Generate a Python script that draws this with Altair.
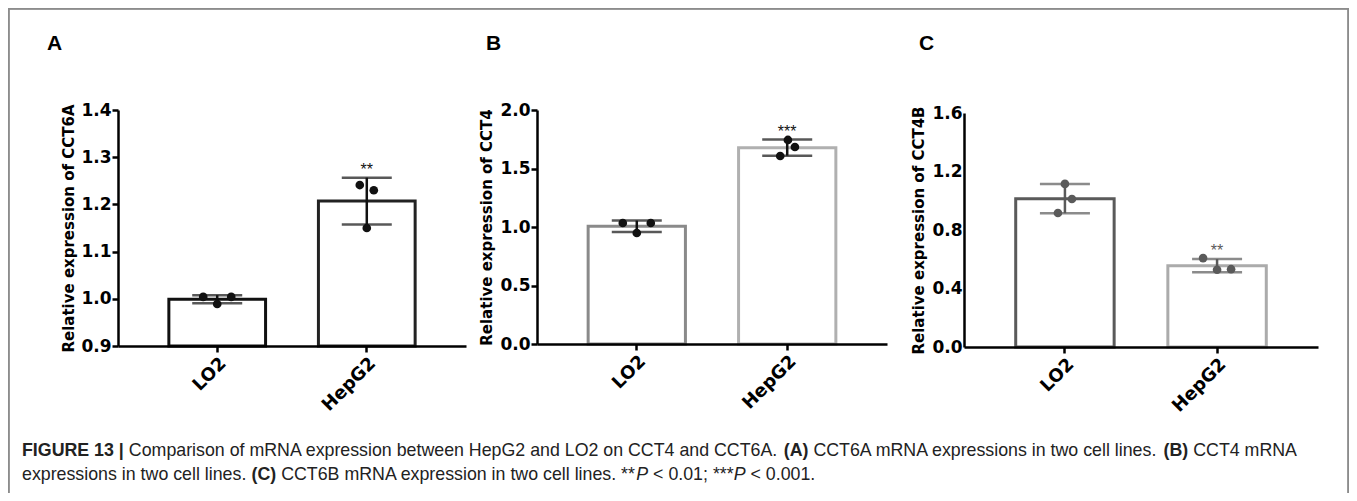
import altair as alt
import pandas as pd

# ---------------- data ----------------
groups = ["LO2", "HepG2"]

a_lo2 = [1.004, 0.989, 1.004]
a_hepg2 = [1.241, 1.230, 1.150]
b_lo2 = [1.034, 0.949, 1.034]
b_hepg2 = [1.744, 1.684, 1.607]
c_lo2 = [1.115, 1.012, 0.916]
c_hepg2 = [0.608, 0.528, 0.532]

# horizontal arrangement of replicate dots inside a bar (-1 left .. 1 right)
a_lo2_slot = [-1, 0, 1]
a_hepg2_slot = [-0.5, 0.5, 0]
b_lo2_slot = [-1, 0, 1]
b_hepg2_slot = [0.05, 0.55, -0.5]
c_lo2_slot = [0.0, 0.5, -0.5]
c_hepg2_slot = [-1, 0, 1]

a_ticks = [0.9, 1.0, 1.1, 1.2, 1.3, 1.4]
b_ticks = [0.0, 0.5, 1.0, 1.5, 2.0]
c_ticks = [0.0, 0.4, 0.8, 1.2, 1.6]

y_titles = ["Relative expression of CCT6A", "Relative expression of CCT4",
            "Relative expression of CCT4B"]
stars_a = ["", "**"]
stars_b = ["", "***"]
stars_c = ["", "**"]
letters = ["A", "B", "C"]

caption_lines = [
    [("FIGURE 13 |", "bold"),
     (" Comparison of mRNA expression between HepG2 and LO2 on CCT4 and CCT6A. ", "normal"),
     ("(A)", "bold"),
     (" CCT6A mRNA expressions in two cell lines. ", "normal"),
     ("(B)", "bold"),
     (" CCT4 mRNA", "normal")],
    [("expressions in two cell lines. ", "normal"),
     ("(C)", "bold"),
     (" CCT6B mRNA expression in two cell lines. **", "normal"),
     ("P", "italic"),
     (" < 0.01; ***", "normal"),
     ("P", "italic"),
     (" < 0.001.", "normal")],
]

# ---------------- layout ----------------
W, H = 1341, 485
AX_FONT = "DejaVu Sans"
TXT_FONT = "Liberation Sans, Arial, sans-serif"
P_INNER = 1 / 3
P_OUTER = 0.33


def make_panel(lo2, hep, slot_lo2, slot_hep, ticks, title, stars, xr, yr,
               bar_cols, dot_col, err_col, title_x, tick_size, label_pad):
    raw = pd.DataFrame({
        "group": ["LO2"] * len(lo2) + ["HepG2"] * len(hep),
        "value": lo2 + hep,
        "slot": slot_lo2 + slot_hep,
    })
    rows = []
    for g, vals, st in zip(groups, [lo2, hep], stars):
        s = pd.Series(vals)
        m, sd = s.mean(), s.std()
        rows.append({"group": g, "mean": m, "hi": m + sd, "lo": m - sd, "star": st})
    summ = pd.DataFrame(rows)

    span = xr[1] - xr[0]
    step = span / (len(groups) - P_INNER + 2 * P_OUTER)
    bw = step * (1 - P_INNER)

    xs = alt.Scale(domain=groups, range=xr, paddingInner=P_INNER, paddingOuter=P_OUTER)
    ys = alt.Scale(domain=[ticks[0], ticks[-1]], range=yr, zero=False, nice=False)
    xax = alt.Axis(orient="bottom", offset=yr[0] - H, title=None, labelAngle=-45,
                   labelAlign="right", labelBaseline="top", labelFont=AX_FONT,
                   labelFontWeight="bold", labelFontSize=18, labelColor="black",
                   labelPadding=2, tickSize=6, tickWidth=2.5, tickColor="black",
                   domainWidth=2.5, domainColor="black", grid=False, zindex=1)
    yax = alt.Axis(orient="left", offset=-xr[0], title=title, values=ticks, format=".1f",
                   labelFont=AX_FONT, labelFontWeight="bold", labelFontSize=17,
                   labelColor="black", labelPadding=label_pad, labelOverlap=False,
                   tickSize=tick_size, tickWidth=2.5, tickColor="black",
                   ticks=tick_size > 0,
                   domainWidth=2.5, domainColor="black", grid=False,
                   titleFont=AX_FONT, titleFontWeight="bold", titleFontSize=15,
                   titleColor="black", titleX=title_x, titleBaseline="bottom",
                   titleAngle=270, zindex=1)
    x = alt.X("group:N", scale=xs, sort=groups, axis=xax)

    def y(field):
        return alt.Y(f"{field}:Q", scale=ys, axis=yax)

    bar = alt.Chart(summ).mark_bar(fill="white", strokeWidth=3, width=bw - 3).encode(
        x=x, y=y("mean"), y2=alt.Y2(datum=ticks[0]),
        stroke=alt.when(alt.datum.group == "LO2").then(alt.value(bar_cols[0]))
        .otherwise(alt.value(bar_cols[1])),
    )
    rule = alt.Chart(summ).mark_rule(strokeWidth=2.5, color=err_col).encode(
        x=x, y=y("lo"), y2="hi:Q")
    cap_hi = alt.Chart(summ).mark_tick(size=50, thickness=2.5, color=err_col).encode(
        x=x, y=y("hi"))
    cap_lo = alt.Chart(summ).mark_tick(size=50, thickness=2.5, color=err_col).encode(
        x=x, y=y("lo"))
    pts = alt.Chart(raw).mark_circle(size=75, opacity=1, color=dot_col).encode(
        x=x,
        xOffset=alt.XOffset("slot:Q", scale=alt.Scale(domain=[-1, 1],
                                                      range=[bw / 2 - 14, bw / 2 + 14])),
        y=y("value"),
    )
    star = alt.Chart(summ).mark_text(font=TXT_FONT, fontSize=16, dy=-3,
                                     baseline="alphabetic", color=err_col).encode(
        x=x, y=y("hi"), text="star:N")
    return alt.layer(bar, rule, cap_hi, cap_lo, pts, star)


pA = make_panel(a_lo2, a_hepg2, a_lo2_slot, a_hepg2_slot, a_ticks, y_titles[0], stars_a,
                [110, 458], [338, 102], ["#111111", "#222222"], "#111111", "#111111",
                -42, 6, 1)
pB = make_panel(b_lo2, b_hepg2, b_lo2_slot, b_hepg2_slot, b_ticks, y_titles[1], stars_b,
                [529, 879], [336, 102], ["#8a8a8a", "#b0b0b0"], "#111111", "#111111",
                -43, 6, 1)
pC = make_panel(c_lo2, c_hepg2, c_lo2_slot, c_hepg2_slot, c_ticks, y_titles[2], stars_c,
                [956, 1310], [339, 105], ["#5a5a5a", "#ababab"], "#5a5a5a", "#5a5a5a",
                -38, 0, 2)

# panel letters
letters_df = pd.DataFrame({"t": letters, "px": [39, 478, 911], "py": [42, 42, 42]})
letter_layer = alt.Chart(letters_df).mark_text(
    font=TXT_FONT, fontSize=21, fontWeight="bold", align="left", baseline="alphabetic",
    color="black").encode(x=alt.X("px:Q", scale=None), y=alt.Y("py:Q", scale=None), text="t:N")

# caption: flow segments using Arial/Liberation Sans advance widths
REG = {' ': 278, '*': 389, '(': 333, ')': 333, '.': 278, ',': 278, ';': 278, '<': 584,
       '|': 260, 'A': 667, 'B': 667, 'C': 722, 'E': 667, 'F': 611, 'G': 778, 'H': 722,
       'I': 278, 'L': 556, 'N': 722, 'O': 778, 'P': 667, 'R': 722, 'T': 611, 'U': 722,
       'a': 556, 'b': 556, 'c': 500, 'd': 556, 'e': 556, 'f': 278, 'g': 556, 'h': 556,
       'i': 222, 'l': 222, 'm': 833, 'n': 556, 'o': 556, 'p': 556, 'r': 333, 's': 500,
       't': 278, 'u': 556, 'v': 500, 'w': 722, 'x': 500, 'y': 500}
BOLD = {' ': 278, '(': 333, ')': 333, '|': 280, 'A': 722, 'B': 722, 'C': 722, 'E': 667,
        'F': 611, 'G': 778, 'I': 278, 'R': 722, 'U': 722}
for d in "0123456789":
    REG[d] = 556
    BOLD[d] = 556

CAP_SIZE = 17.8
CAP_X0 = 14
CAP_Y = [448, 472]


def text_w(s, style):
    table = BOLD if style == "bold" else REG
    return sum(table.get(ch, 556) for ch in s) * CAP_SIZE / 1000.0


cap_rows = []
for line, ypix in zip(caption_lines, CAP_Y):
    cur = CAP_X0
    for seg, style in line:
        lead = len(seg) - len(seg.lstrip(" "))
        core = seg.strip(" ")
        xpos = cur + text_w(" " * lead, style)
        cap_rows.append({"t": core, "px": xpos, "py": ypix, "style": style})
        cur += text_w(seg, style)
cap_df = pd.DataFrame(cap_rows)


def cap_layer(style, weight, fstyle):
    return alt.Chart(cap_df).transform_filter(alt.datum.style == style).mark_text(
        font=TXT_FONT, fontSize=CAP_SIZE, fontWeight=weight, fontStyle=fstyle,
        align="left", baseline="alphabetic", color="#222222").encode(
        x=alt.X("px:Q", scale=None), y=alt.Y("py:Q", scale=None), text="t:N")


cap_norm = cap_layer("normal", "normal", "normal")
cap_bold = cap_layer("bold", "bold", "normal")
cap_ital = cap_layer("italic", "normal", "italic")

# figure frame
frame_left = alt.Chart(letters_df).mark_rule(color="#8c8c8c", strokeWidth=1.5).encode(
    x=alt.value(0.75), y=alt.value(0), y2=alt.value(H))
frame_top = alt.Chart(letters_df).mark_rule(color="#8c8c8c", strokeWidth=1.5).encode(
    x=alt.value(0), x2=alt.value(W), y=alt.value(0.75))
frame_right = alt.Chart(letters_df).mark_rule(color="#8c8c8c", strokeWidth=1.5).encode(
    x=alt.value(W - 0.75), y=alt.value(0), y2=alt.value(H))

chart = alt.layer(
    pA, pB, pC, letter_layer, cap_norm, cap_bold, cap_ital,
    frame_left, frame_top, frame_right,
).resolve_scale(
    x="independent", y="independent", xOffset="independent"
).resolve_axis(
    x="independent", y="independent"
).properties(
    width=W, height=H, padding=0, autosize=alt.AutoSizeParams(type="none"),
    background="white",
).configure_view(stroke=None).configure_axis(grid=False)

chart.save("out.html", embed_options={"renderer": "svg", "actions": False})
